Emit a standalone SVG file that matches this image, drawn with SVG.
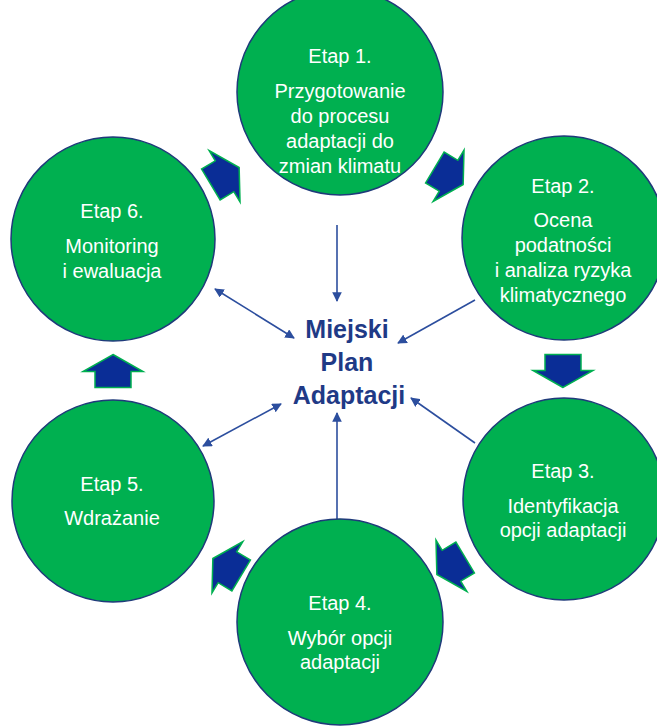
<svg xmlns="http://www.w3.org/2000/svg" width="657" height="726" viewBox="0 0 657 726">
<style>
.c{fill:#00B050;stroke:#1f3a7a;stroke-width:1.5}
.t{font-family:"Liberation Sans",Arial,sans-serif;font-size:20px;fill:#ffffff;text-anchor:middle}
.m{font-family:"Liberation Sans",Arial,sans-serif;font-size:25px;font-weight:bold;fill:#1f3a86;text-anchor:middle}
.ba{fill:#0a2d96;stroke:#00B050;stroke-width:1.5;stroke-linejoin:miter}
.ln{stroke:#2c4e9e;stroke-width:1.6;fill:none}
</style>
<defs>
<marker id="ah" viewBox="0 0 10 10" refX="9" refY="5" markerWidth="6" markerHeight="6" orient="auto-start-reverse" markerUnits="strokeWidth">
<path d="M0,0 L10,5 L0,10 z" fill="#2c4e9e"/>
</marker>
<path id="bar" d="M0,-16.5 L30,0.5 L18,0.5 L18,16.5 L-18,16.5 L-18,0.5 L-30,0.5 z"/>
</defs>
<rect width="657" height="726" fill="#ffffff"/>
<g id="connectors">
<line class="ln" x1="337" y1="225" x2="337" y2="301" marker-end="url(#ah)"/>
<line class="ln" x1="475" y1="300" x2="398" y2="343" marker-end="url(#ah)"/>
<line class="ln" x1="215" y1="289" x2="294" y2="338" marker-start="url(#ah)" marker-end="url(#ah)"/>
<line class="ln" x1="203" y1="446" x2="281" y2="404" marker-start="url(#ah)" marker-end="url(#ah)"/>
<line class="ln" x1="337" y1="519" x2="337" y2="413" marker-end="url(#ah)"/>
<line class="ln" x1="475" y1="443" x2="411" y2="398" marker-end="url(#ah)"/>
</g>
<g id="flow-arrows">
<use href="#bar" class="ba" transform="translate(225,176) rotate(59)"/>
<use href="#bar" class="ba" transform="translate(449,176) rotate(121)"/>
<use href="#bar" class="ba" transform="translate(563,371) rotate(180)"/>
<use href="#bar" class="ba" transform="translate(451,566) rotate(239)"/>
<use href="#bar" class="ba" transform="translate(227,567) rotate(301)"/>
<use href="#bar" class="ba" transform="translate(113,371)"/>
</g>
<g id="etap1">
<circle class="c" cx="340" cy="92" r="103"/>
<text class="t" x="340" y="63">Etap 1.</text>
<text class="t" x="340" y="98">Przygotowanie</text>
<text class="t" x="340" y="123">do procesu</text>
<text class="t" x="340" y="148">adaptacji do</text>
<text class="t" x="340" y="173">zmian klimatu</text>
</g>
<g id="etap2">
<circle class="c" cx="564" cy="238" r="102"/>
<text class="t" x="563" y="193">Etap 2.</text>
<text class="t" x="563" y="227">Ocena</text>
<text class="t" x="563" y="252">podatności</text>
<text class="t" x="563" y="277">i analiza ryzyka</text>
<text class="t" x="563" y="302">klimatycznego</text>
</g>
<g id="etap3">
<circle class="c" cx="564" cy="499" r="101"/>
<text class="t" x="563" y="478">Etap 3.</text>
<text class="t" x="563" y="513">Identyfikacja</text>
<text class="t" x="563" y="537">opcji adaptacji</text>
</g>
<g id="etap4">
<circle class="c" cx="340" cy="622" r="103"/>
<text class="t" x="340" y="610">Etap 4.</text>
<text class="t" x="340" y="645">Wybór opcji</text>
<text class="t" x="340" y="669">adaptacji</text>
</g>
<g id="etap5">
<circle class="c" cx="113" cy="501" r="101"/>
<text class="t" x="112" y="491">Etap 5.</text>
<text class="t" x="112" y="525">Wdrażanie</text>
</g>
<g id="etap6">
<circle class="c" cx="113" cy="239" r="102"/>
<text class="t" x="112" y="218">Etap 6.</text>
<text class="t" x="112" y="253">Monitoring</text>
<text class="t" x="112" y="278">i ewaluacja</text>
</g>
<g id="center">
<text class="m" x="347" y="338">Miejski</text>
<text class="m" x="347" y="371">Plan</text>
<text class="m" x="349" y="404">Adaptacji</text>
</g>
</svg>
